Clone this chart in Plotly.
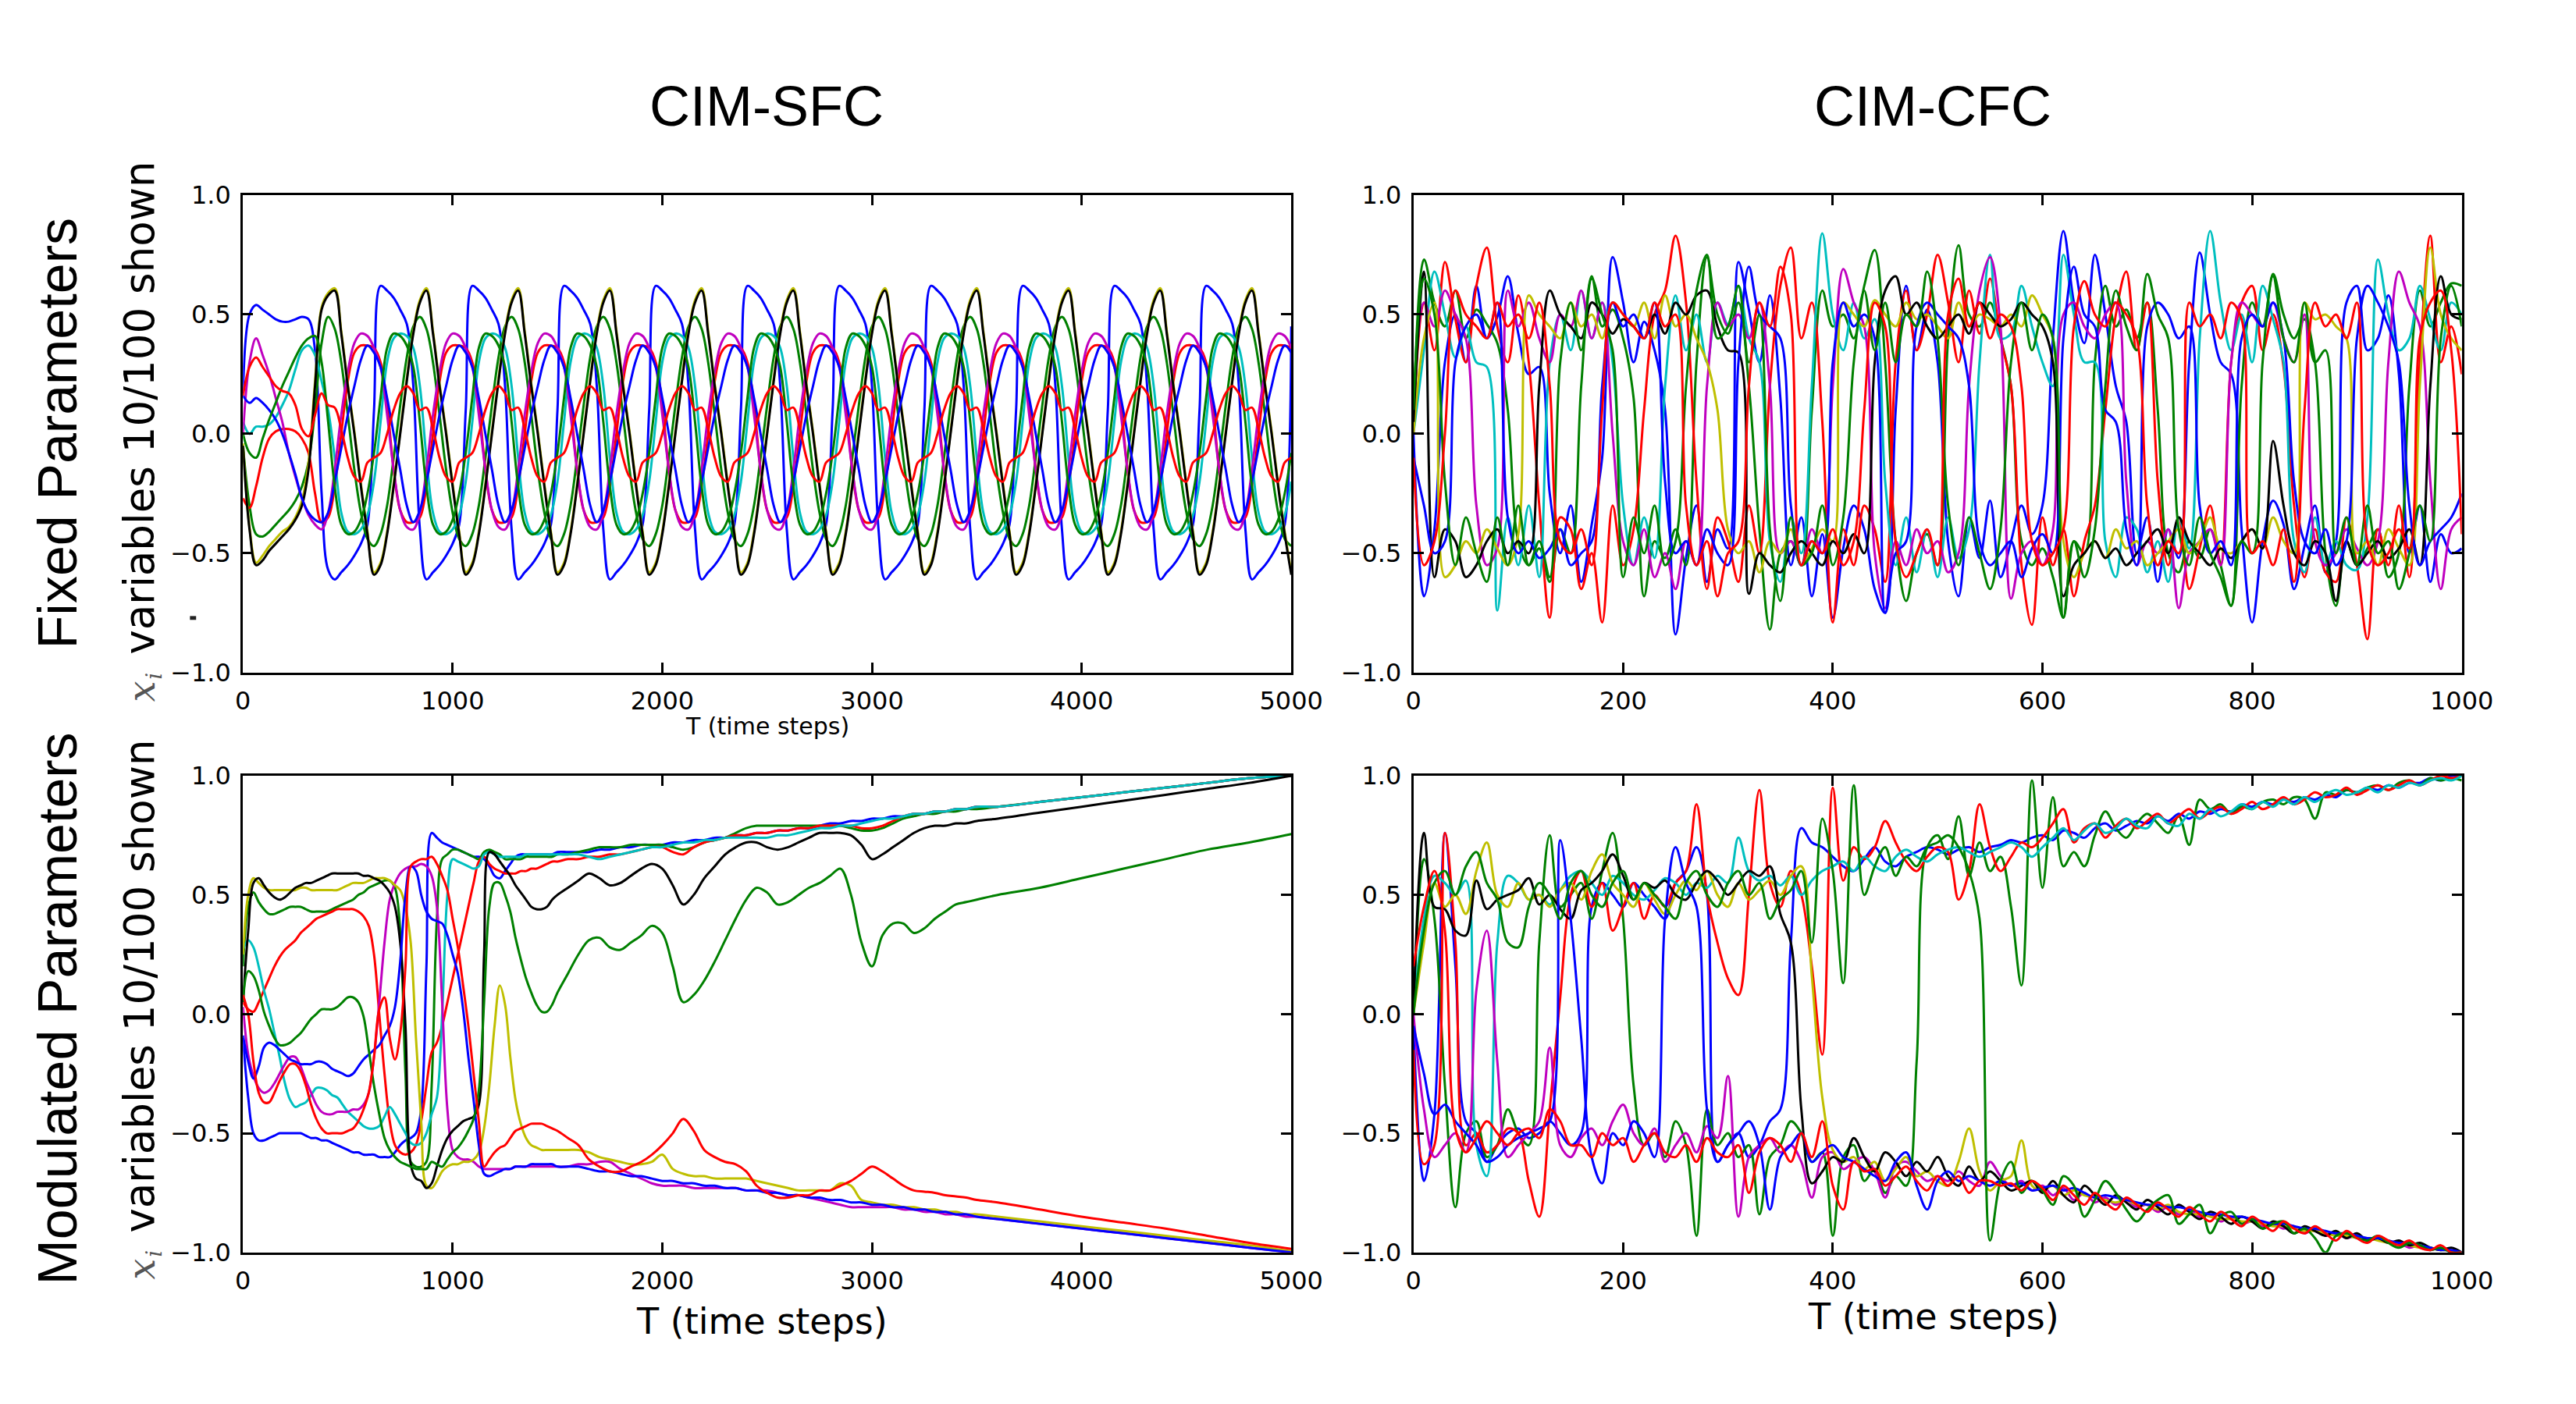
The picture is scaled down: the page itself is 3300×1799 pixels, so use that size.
#!/usr/bin/env python3
"""
CIM-SFC / CIM-CFC amplitude traces, 10 of 100 variables shown.

Top row: fixed parameters, bottom row: modulated parameters.
Left column: CIM-SFC (5000 steps), right column: CIM-CFC (1000 steps).
"""

import plotly.graph_objects as go

W, H = 3300, 1799

# matplotlib "classic" colour cycle used by the original: b g r c m y k b g r
COLORS = ['#0000ff', '#008000', '#ff0000', '#00bfbf', '#bf00bf',
          '#bfbf00', '#000000', '#0000ff', '#008000', '#ff0000']

# ---------------------------------------------------------------------------
# time grids
# ---------------------------------------------------------------------------
t_sfc_fixed = [i * 31.25 for i in range(161)]
t_cfc = list(range(0, 1001, 10))
t_sfc_mod = list(range(0, 1501, 25)) + list(range(1550, 3501, 50)) + list(range(3600, 5001, 200))

# ---------------------------------------------------------------------------
# CIM-SFC, fixed parameters (every 31.25 steps)
# ---------------------------------------------------------------------------
sfc_fix_blue1 = [
    0.17, 0.50, 0.54, 0.52, 0.50, 0.48, 0.47, 0.47, 0.48, 0.49, 0.48, 0.35, -0.25, -0.57,
    -0.61, -0.58, -0.55, -0.51, -0.46, -0.38, 0.10,
    0.62, 0.60, 0.57, 0.52, 0.46, 0.20, -0.40, -0.61, -0.58, -0.55, -0.51, -0.46, -0.38, 0.10,
    0.62, 0.60, 0.57, 0.52, 0.46, 0.20, -0.40, -0.61, -0.58, -0.55, -0.51, -0.46, -0.38, 0.10,
    0.62, 0.60, 0.57, 0.52, 0.46, 0.20, -0.40, -0.61, -0.58, -0.55, -0.51, -0.46, -0.38, 0.10,
    0.62, 0.60, 0.57, 0.52, 0.46, 0.20, -0.40, -0.61, -0.58, -0.55, -0.51, -0.46, -0.38, 0.10,
    0.62, 0.60, 0.57, 0.52, 0.46, 0.20, -0.40, -0.61, -0.58, -0.55, -0.51, -0.46, -0.38, 0.10,
    0.62, 0.60, 0.57, 0.52, 0.46, 0.20, -0.40, -0.61, -0.58, -0.55, -0.51, -0.46, -0.38, 0.10,
    0.62, 0.60, 0.57, 0.52, 0.46, 0.20, -0.40, -0.61, -0.58, -0.55, -0.51, -0.46, -0.38, 0.10,
    0.62, 0.60, 0.57, 0.52, 0.46, 0.20, -0.40, -0.61, -0.58, -0.55, -0.51, -0.46, -0.38, 0.10,
    0.62, 0.60, 0.57, 0.52, 0.46, 0.20, -0.40, -0.61, -0.58, -0.55, -0.51, -0.46, -0.38, 0.10,
    0.62, 0.60, 0.57, 0.52, 0.46, 0.20, -0.40, -0.61, -0.58, -0.55, -0.51, -0.46, -0.38, 0.45,
]
sfc_fix_green1 = [
    -0.05, -0.30, -0.42, -0.43, -0.41, -0.38, -0.35, -0.32, -0.28, -0.22, -0.12, 0.10, 0.38, 0.49,
    0.44, 0.30, 0.08, -0.15, -0.33, -0.44, -0.47,
    -0.42, -0.30, -0.10, 0.12, 0.32, 0.45, 0.49, 0.44, 0.30, 0.08, -0.15, -0.33, -0.44, -0.47,
    -0.42, -0.30, -0.10, 0.12, 0.32, 0.45, 0.49, 0.44, 0.30, 0.08, -0.15, -0.33, -0.44, -0.47,
    -0.42, -0.30, -0.10, 0.12, 0.32, 0.45, 0.49, 0.44, 0.30, 0.08, -0.15, -0.33, -0.44, -0.47,
    -0.42, -0.30, -0.10, 0.12, 0.32, 0.45, 0.49, 0.44, 0.30, 0.08, -0.15, -0.33, -0.44, -0.47,
    -0.42, -0.30, -0.10, 0.12, 0.32, 0.45, 0.49, 0.44, 0.30, 0.08, -0.15, -0.33, -0.44, -0.47,
    -0.42, -0.30, -0.10, 0.12, 0.32, 0.45, 0.49, 0.44, 0.30, 0.08, -0.15, -0.33, -0.44, -0.47,
    -0.42, -0.30, -0.10, 0.12, 0.32, 0.45, 0.49, 0.44, 0.30, 0.08, -0.15, -0.33, -0.44, -0.47,
    -0.42, -0.30, -0.10, 0.12, 0.32, 0.45, 0.49, 0.44, 0.30, 0.08, -0.15, -0.33, -0.44, -0.47,
    -0.42, -0.30, -0.10, 0.12, 0.32, 0.45, 0.49, 0.44, 0.30, 0.08, -0.15, -0.33, -0.44, -0.47,
    -0.42, -0.30, -0.10, 0.12, 0.32, 0.45, 0.49, 0.44, 0.30, 0.08, -0.15, -0.33, -0.44, -0.47,
]
sfc_fix_red1 = [
    -0.27, -0.31, -0.22, -0.10, -0.02, 0.01, 0.02, 0.02, 0.01, -0.02, -0.08, -0.25, -0.37, -0.35,
    -0.22, 0.00, 0.22, 0.34, 0.37, 0.37, 0.36,
    0.30, 0.12, -0.15, -0.32, -0.37, -0.37, -0.35, -0.22, 0.00, 0.22, 0.34, 0.37, 0.37, 0.36,
    0.30, 0.12, -0.15, -0.32, -0.37, -0.37, -0.35, -0.22, 0.00, 0.22, 0.34, 0.37, 0.37, 0.36,
    0.30, 0.12, -0.15, -0.32, -0.37, -0.37, -0.35, -0.22, 0.00, 0.22, 0.34, 0.37, 0.37, 0.36,
    0.30, 0.12, -0.15, -0.32, -0.37, -0.37, -0.35, -0.22, 0.00, 0.22, 0.34, 0.37, 0.37, 0.36,
    0.30, 0.12, -0.15, -0.32, -0.37, -0.37, -0.35, -0.22, 0.00, 0.22, 0.34, 0.37, 0.37, 0.36,
    0.30, 0.12, -0.15, -0.32, -0.37, -0.37, -0.35, -0.22, 0.00, 0.22, 0.34, 0.37, 0.37, 0.36,
    0.30, 0.12, -0.15, -0.32, -0.37, -0.37, -0.35, -0.22, 0.00, 0.22, 0.34, 0.37, 0.37, 0.36,
    0.30, 0.12, -0.15, -0.32, -0.37, -0.37, -0.35, -0.22, 0.00, 0.22, 0.34, 0.37, 0.37, 0.36,
    0.30, 0.12, -0.15, -0.32, -0.37, -0.37, -0.35, -0.22, 0.00, 0.22, 0.34, 0.37, 0.37, 0.36,
    0.30, 0.12, -0.15, -0.32, -0.37, -0.37, -0.35, -0.22, 0.00, 0.22, 0.34, 0.37, 0.37, 0.36,
]
sfc_fix_cyan = [
    0.05, 0.00, 0.03, 0.03, 0.04, 0.07, 0.12, 0.18, 0.27, 0.35, 0.37, 0.33, 0.22, 0.10,
    -0.10, -0.33, -0.41, -0.42, -0.40, -0.34, -0.20,
    0.05, 0.30, 0.40, 0.42, 0.41, 0.36, 0.20, -0.10, -0.33, -0.41, -0.42, -0.40, -0.34, -0.20,
    0.05, 0.30, 0.40, 0.42, 0.41, 0.36, 0.20, -0.10, -0.33, -0.41, -0.42, -0.40, -0.34, -0.20,
    0.05, 0.30, 0.40, 0.42, 0.41, 0.36, 0.20, -0.10, -0.33, -0.41, -0.42, -0.40, -0.34, -0.20,
    0.05, 0.30, 0.40, 0.42, 0.41, 0.36, 0.20, -0.10, -0.33, -0.41, -0.42, -0.40, -0.34, -0.20,
    0.05, 0.30, 0.40, 0.42, 0.41, 0.36, 0.20, -0.10, -0.33, -0.41, -0.42, -0.40, -0.34, -0.20,
    0.05, 0.30, 0.40, 0.42, 0.41, 0.36, 0.20, -0.10, -0.33, -0.41, -0.42, -0.40, -0.34, -0.20,
    0.05, 0.30, 0.40, 0.42, 0.41, 0.36, 0.20, -0.10, -0.33, -0.41, -0.42, -0.40, -0.34, -0.20,
    0.05, 0.30, 0.40, 0.42, 0.41, 0.36, 0.20, -0.10, -0.33, -0.41, -0.42, -0.40, -0.34, -0.20,
    0.05, 0.30, 0.40, 0.42, 0.41, 0.36, 0.20, -0.10, -0.33, -0.41, -0.42, -0.40, -0.34, -0.20,
    0.05, 0.30, 0.40, 0.42, 0.41, 0.36, 0.20, -0.10, -0.33, -0.41, -0.42, -0.40, -0.34, -0.20,
]
sfc_fix_magenta = [
    0.00, 0.30, 0.40, 0.33, 0.25, 0.15, 0.05, -0.08, -0.18, -0.27, -0.34, -0.38, -0.40, -0.33,
    -0.15, 0.08, 0.26, 0.38, 0.42, 0.41, 0.36,
    0.28, 0.08, -0.15, -0.32, -0.39, -0.40, -0.33, -0.15, 0.08, 0.26, 0.38, 0.42, 0.41, 0.36,
    0.28, 0.08, -0.15, -0.32, -0.39, -0.40, -0.33, -0.15, 0.08, 0.26, 0.38, 0.42, 0.41, 0.36,
    0.28, 0.08, -0.15, -0.32, -0.39, -0.40, -0.33, -0.15, 0.08, 0.26, 0.38, 0.42, 0.41, 0.36,
    0.28, 0.08, -0.15, -0.32, -0.39, -0.40, -0.33, -0.15, 0.08, 0.26, 0.38, 0.42, 0.41, 0.36,
    0.28, 0.08, -0.15, -0.32, -0.39, -0.40, -0.33, -0.15, 0.08, 0.26, 0.38, 0.42, 0.41, 0.36,
    0.28, 0.08, -0.15, -0.32, -0.39, -0.40, -0.33, -0.15, 0.08, 0.26, 0.38, 0.42, 0.41, 0.36,
    0.28, 0.08, -0.15, -0.32, -0.39, -0.40, -0.33, -0.15, 0.08, 0.26, 0.38, 0.42, 0.41, 0.36,
    0.28, 0.08, -0.15, -0.32, -0.39, -0.40, -0.33, -0.15, 0.08, 0.26, 0.38, 0.42, 0.41, 0.36,
    0.28, 0.08, -0.15, -0.32, -0.39, -0.40, -0.33, -0.15, 0.08, 0.26, 0.38, 0.42, 0.41, 0.36,
    0.28, 0.08, -0.15, -0.32, -0.39, -0.40, -0.33, -0.15, 0.08, 0.26, 0.38, 0.42, 0.41, 0.36,
]
sfc_fix_yellow = [
    -0.04, -0.39, -0.54, -0.51, -0.47, -0.44, -0.41, -0.39, -0.35, -0.28, -0.12, 0.22, 0.53, 0.59,
    0.61, 0.43, 0.21, 0.01, -0.21, -0.41, -0.58,
    -0.54, -0.41, -0.21, 0.01, 0.23, 0.43, 0.56, 0.61, 0.43, 0.21, 0.01, -0.21, -0.41, -0.58,
    -0.54, -0.41, -0.21, 0.01, 0.23, 0.43, 0.56, 0.61, 0.43, 0.21, 0.01, -0.21, -0.41, -0.58,
    -0.54, -0.41, -0.21, 0.01, 0.23, 0.43, 0.56, 0.61, 0.43, 0.21, 0.01, -0.21, -0.41, -0.58,
    -0.54, -0.41, -0.21, 0.01, 0.23, 0.43, 0.56, 0.61, 0.43, 0.21, 0.01, -0.21, -0.41, -0.58,
    -0.54, -0.41, -0.21, 0.01, 0.23, 0.43, 0.56, 0.61, 0.43, 0.21, 0.01, -0.21, -0.41, -0.58,
    -0.54, -0.41, -0.21, 0.01, 0.23, 0.43, 0.56, 0.61, 0.43, 0.21, 0.01, -0.21, -0.41, -0.58,
    -0.54, -0.41, -0.21, 0.01, 0.23, 0.43, 0.56, 0.61, 0.43, 0.21, 0.01, -0.21, -0.41, -0.58,
    -0.54, -0.41, -0.21, 0.01, 0.23, 0.43, 0.56, 0.61, 0.43, 0.21, 0.01, -0.21, -0.41, -0.58,
    -0.54, -0.41, -0.21, 0.01, 0.23, 0.43, 0.56, 0.61, 0.43, 0.21, 0.01, -0.21, -0.41, -0.58,
    -0.54, -0.41, -0.21, 0.01, 0.23, 0.43, 0.56, 0.61, 0.43, 0.21, 0.01, -0.21, -0.41, -0.58,
]
sfc_fix_black = [
    -0.05, -0.40, -0.55, -0.53, -0.49, -0.46, -0.43, -0.40, -0.36, -0.30, -0.15, 0.20, 0.52, 0.58,
    0.60, 0.42, 0.20, 0.00, -0.22, -0.42, -0.59,
    -0.55, -0.42, -0.22, 0.00, 0.22, 0.42, 0.55, 0.60, 0.42, 0.20, 0.00, -0.22, -0.42, -0.59,
    -0.55, -0.42, -0.22, 0.00, 0.22, 0.42, 0.55, 0.60, 0.42, 0.20, 0.00, -0.22, -0.42, -0.59,
    -0.55, -0.42, -0.22, 0.00, 0.22, 0.42, 0.55, 0.60, 0.42, 0.20, 0.00, -0.22, -0.42, -0.59,
    -0.55, -0.42, -0.22, 0.00, 0.22, 0.42, 0.55, 0.60, 0.42, 0.20, 0.00, -0.22, -0.42, -0.59,
    -0.55, -0.42, -0.22, 0.00, 0.22, 0.42, 0.55, 0.60, 0.42, 0.20, 0.00, -0.22, -0.42, -0.59,
    -0.55, -0.42, -0.22, 0.00, 0.22, 0.42, 0.55, 0.60, 0.42, 0.20, 0.00, -0.22, -0.42, -0.59,
    -0.55, -0.42, -0.22, 0.00, 0.22, 0.42, 0.55, 0.60, 0.42, 0.20, 0.00, -0.22, -0.42, -0.59,
    -0.55, -0.42, -0.22, 0.00, 0.22, 0.42, 0.55, 0.60, 0.42, 0.20, 0.00, -0.22, -0.42, -0.59,
    -0.55, -0.42, -0.22, 0.00, 0.22, 0.42, 0.55, 0.60, 0.42, 0.20, 0.00, -0.22, -0.42, -0.59,
    -0.55, -0.42, -0.22, 0.00, 0.22, 0.42, 0.55, 0.60, 0.42, 0.20, 0.00, -0.22, -0.42, -0.59,
]
sfc_fix_blue2 = [
    0.16, 0.13, 0.15, 0.13, 0.10, 0.06, 0.00, -0.08, -0.17, -0.27, -0.33, -0.36, -0.37, -0.33,
    -0.20, -0.06, 0.08, 0.20, 0.31, 0.37, 0.34,
    0.28, 0.15, 0.00, -0.15, -0.30, -0.37, -0.32, -0.20, -0.06, 0.08, 0.20, 0.31, 0.37, 0.34,
    0.28, 0.15, 0.00, -0.15, -0.30, -0.37, -0.32, -0.20, -0.06, 0.08, 0.20, 0.31, 0.37, 0.34,
    0.28, 0.15, 0.00, -0.15, -0.30, -0.37, -0.32, -0.20, -0.06, 0.08, 0.20, 0.31, 0.37, 0.34,
    0.28, 0.15, 0.00, -0.15, -0.30, -0.37, -0.32, -0.20, -0.06, 0.08, 0.20, 0.31, 0.37, 0.34,
    0.28, 0.15, 0.00, -0.15, -0.30, -0.37, -0.32, -0.20, -0.06, 0.08, 0.20, 0.31, 0.37, 0.34,
    0.28, 0.15, 0.00, -0.15, -0.30, -0.37, -0.32, -0.20, -0.06, 0.08, 0.20, 0.31, 0.37, 0.34,
    0.28, 0.15, 0.00, -0.15, -0.30, -0.37, -0.32, -0.20, -0.06, 0.08, 0.20, 0.31, 0.37, 0.34,
    0.28, 0.15, 0.00, -0.15, -0.30, -0.37, -0.32, -0.20, -0.06, 0.08, 0.20, 0.31, 0.37, 0.34,
    0.28, 0.15, 0.00, -0.15, -0.30, -0.37, -0.32, -0.20, -0.06, 0.08, 0.20, 0.31, 0.37, 0.34,
    0.28, 0.15, 0.00, -0.15, -0.30, -0.37, -0.32, -0.20, -0.06, 0.08, 0.20, 0.31, 0.37, 0.34,
]
sfc_fix_green2 = [
    0.00, -0.08, -0.10, -0.02, 0.06, 0.13, 0.20, 0.26, 0.32, 0.37, 0.40, 0.41, 0.30, 0.05,
    -0.22, -0.38, -0.42, -0.41, -0.36, -0.25, -0.08,
    0.15, 0.36, 0.42, 0.41, 0.37, 0.28, 0.05, -0.22, -0.38, -0.42, -0.41, -0.36, -0.25, -0.08,
    0.15, 0.36, 0.42, 0.41, 0.37, 0.28, 0.05, -0.22, -0.38, -0.42, -0.41, -0.36, -0.25, -0.08,
    0.15, 0.36, 0.42, 0.41, 0.37, 0.28, 0.05, -0.22, -0.38, -0.42, -0.41, -0.36, -0.25, -0.08,
    0.15, 0.36, 0.42, 0.41, 0.37, 0.28, 0.05, -0.22, -0.38, -0.42, -0.41, -0.36, -0.25, -0.08,
    0.15, 0.36, 0.42, 0.41, 0.37, 0.28, 0.05, -0.22, -0.38, -0.42, -0.41, -0.36, -0.25, -0.08,
    0.15, 0.36, 0.42, 0.41, 0.37, 0.28, 0.05, -0.22, -0.38, -0.42, -0.41, -0.36, -0.25, -0.08,
    0.15, 0.36, 0.42, 0.41, 0.37, 0.28, 0.05, -0.22, -0.38, -0.42, -0.41, -0.36, -0.25, -0.08,
    0.15, 0.36, 0.42, 0.41, 0.37, 0.28, 0.05, -0.22, -0.38, -0.42, -0.41, -0.36, -0.25, -0.08,
    0.15, 0.36, 0.42, 0.41, 0.37, 0.28, 0.05, -0.22, -0.38, -0.42, -0.41, -0.36, -0.25, -0.08,
    0.15, 0.36, 0.42, 0.41, 0.37, 0.28, 0.05, -0.22, -0.38, -0.42, -0.41, -0.36, -0.25, -0.08,
]
sfc_fix_red2 = [
    0.16, 0.28, 0.32, 0.28, 0.24, 0.20, 0.18, 0.17, 0.12, 0.02, -0.01, 0.08, 0.17, 0.12,
    0.11, 0.02, -0.10, -0.18, -0.20, -0.12, -0.10,
    -0.08, 0.00, 0.10, 0.17, 0.20, 0.17, 0.10, 0.11, 0.02, -0.10, -0.18, -0.20, -0.12, -0.10,
    -0.08, 0.00, 0.10, 0.17, 0.20, 0.17, 0.10, 0.11, 0.02, -0.10, -0.18, -0.20, -0.12, -0.10,
    -0.08, 0.00, 0.10, 0.17, 0.20, 0.17, 0.10, 0.11, 0.02, -0.10, -0.18, -0.20, -0.12, -0.10,
    -0.08, 0.00, 0.10, 0.17, 0.20, 0.17, 0.10, 0.11, 0.02, -0.10, -0.18, -0.20, -0.12, -0.10,
    -0.08, 0.00, 0.10, 0.17, 0.20, 0.17, 0.10, 0.11, 0.02, -0.10, -0.18, -0.20, -0.12, -0.10,
    -0.08, 0.00, 0.10, 0.17, 0.20, 0.17, 0.10, 0.11, 0.02, -0.10, -0.18, -0.20, -0.12, -0.10,
    -0.08, 0.00, 0.10, 0.17, 0.20, 0.17, 0.10, 0.11, 0.02, -0.10, -0.18, -0.20, -0.12, -0.10,
    -0.08, 0.00, 0.10, 0.17, 0.20, 0.17, 0.10, 0.11, 0.02, -0.10, -0.18, -0.20, -0.12, -0.10,
    -0.08, 0.00, 0.10, 0.17, 0.20, 0.17, 0.10, 0.11, 0.02, -0.10, -0.18, -0.20, -0.12, -0.10,
    -0.08, 0.00, 0.10, 0.17, 0.20, 0.17, 0.10, 0.11, 0.02, -0.10, -0.18, -0.20, -0.12, -0.10,
]

# ---------------------------------------------------------------------------
# CIM-CFC, fixed parameters (every 10 steps)
# ---------------------------------------------------------------------------
cfc_fix_blue1 = [
    0.00, -0.68, -0.40, 0.30, 0.50, 0.30, 0.62, 0.40, 0.49, 0.66,
    0.42, 0.25, 0.28, -0.25, -0.50, -0.30, -0.62, -0.38, -0.10, 0.74,
    0.55, 0.30, 0.47, 0.35, 0.10, -0.84, -0.52, -0.30, -0.62, -0.40,
    -0.48, 0.72, 0.52, 0.30, 0.58, 0.15, -0.55, -0.35, -0.68, -0.42,
    -0.77, -0.48, -0.30, -0.40, -0.65, -0.75, 0.10, 0.62, 0.35, 0.52,
    0.30, -0.45, -0.68, -0.35, -0.52, -0.28, -0.60, -0.45, -0.30, -0.42,
    -0.30, 0.40, 0.85, 0.55, 0.38, 0.75, 0.50, 0.20, 0.05, -0.50,
    -0.35, -0.62, -0.40, -0.52, 0.30, 0.76, 0.50, 0.30, 0.25, -0.40,
    -0.79, -0.45, -0.28, -0.38, -0.65, -0.47, -0.30, -0.58, -0.45, 0.55,
    0.62, 0.35, 0.40, 0.58, 0.25, -0.50, -0.30, -0.62, -0.42, -0.50,
    -0.48,
]
cfc_fix_green1 = [
    0.05, 0.73, 0.55, 0.45, 0.60, 0.40, 0.52, 0.46, 0.38, 0.10,
    -0.45, -0.55, -0.48, -0.62, -0.40, -0.50, 0.20, 0.66, 0.45, 0.52,
    0.40, 0.15, -0.68, -0.45, -0.52, -0.40, -0.55, 0.30, 0.74, 0.50,
    0.42, 0.55, 0.20, -0.40, -0.82, -0.50, -0.45, -0.55, 0.10, 0.60,
    0.45, 0.50, 0.40, 0.62, 0.77, 0.30, -0.45, -0.70, -0.50, -0.42,
    -0.55, 0.40, 0.79, 0.50, 0.45, 0.55, 0.40, 0.20, -0.45, -0.55,
    -0.48, -0.60, -0.77, -0.45, -0.50, 0.30, 0.62, 0.45, 0.52, 0.40,
    0.55, 0.10, -0.50, -0.58, -0.45, -0.52, -0.40, -0.55, -0.72, 0.20,
    0.55, 0.45, 0.67, 0.50, 0.40, 0.48, 0.30, -0.50, -0.72, -0.45,
    -0.55, -0.48, -0.40, -0.60, -0.50, 0.20, 0.60, 0.45, 0.55, 0.63,
    0.62,
]
cfc_fix_red1 = [
    0.05, 0.55, 0.35, 0.72, 0.48, 0.30, 0.62, 0.78, 0.45, 0.30,
    0.58, 0.30, -0.30, -0.77, -0.35, -0.40, -0.65, -0.50, -0.79, -0.30,
    -0.55, -0.40, 0.10, 0.50, 0.60, 0.83, 0.55, -0.20, -0.65, -0.35,
    -0.45, -0.62, -0.30, -0.50, 0.20, 0.62, 0.78, 0.40, 0.55, 0.05,
    -0.79, -0.40, -0.55, -0.30, -0.40, -0.62, 0.30, 0.60, 0.35, 0.50,
    0.75, 0.55, 0.30, 0.60, 0.42, 0.65, 0.40, 0.20, -0.55, -0.80,
    -0.35, -0.55, -0.40, -0.68, -0.45, -0.30, 0.10, 0.50, 0.68, 0.35,
    0.55, -0.20, -0.55, -0.35, -0.65, -0.48, -0.30, -0.55, 0.30, 0.55,
    0.62, 0.35, 0.50, 0.28, -0.30, -0.60, -0.40, -0.58, -0.62, -0.35,
    -0.55, -0.86, -0.40, -0.55, -0.30, -0.60, 0.30, 0.83, 0.30, 0.45,
    0.25,
]
cfc_fix_cyan = [
    0.00, 0.35, 0.68, 0.50, 0.32, 0.45, 0.30, 0.28, -0.74, -0.35,
    -0.55, -0.30, -0.60, 0.30, 0.50, 0.35, 0.60, 0.40, 0.55, 0.30,
    -0.30, -0.55, -0.35, -0.52, 0.20, 0.58, 0.35, 0.50, 0.30, 0.55,
    0.46, 0.62, 0.40, 0.30, -0.45, -0.62, -0.35, -0.50, 0.20, 0.84,
    0.50, 0.35, 0.55, 0.40, 0.48, -0.20, -0.55, -0.35, -0.58, -0.40,
    -0.60, -0.35, -0.52, -0.40, 0.30, 0.75, 0.40, 0.42, 0.62, 0.45,
    0.30, 0.20, 0.75, 0.50, 0.30, 0.30, -0.45, -0.60, -0.35, -0.40,
    -0.58, -0.45, -0.62, -0.35, -0.48, 0.40, 0.85, 0.55, 0.35, 0.50,
    0.30, 0.62, 0.48, 0.30, -0.45, -0.58, -0.35, -0.55, -0.45, -0.55,
    -0.57, -0.35, 0.73, 0.50, 0.35, 0.40, 0.62, 0.48, 0.35, 0.55,
    0.50,
]
cfc_fix_magenta = [
    0.00, 0.55, 0.45, 0.60, 0.50, 0.40, -0.30, -0.55, -0.48, 0.60,
    0.45, 0.55, 0.40, 0.30, 0.50, 0.45, 0.60, 0.40, 0.55, 0.00,
    -0.45, -0.55, -0.40, -0.60, -0.50, -0.65, -0.45, -0.55, 0.20, 0.55,
    0.45, 0.50, 0.40, 0.55, 0.20, -0.50, -0.45, -0.55, -0.40, -0.50,
    0.20, 0.69, 0.55, 0.45, -0.50, -0.73, -0.45, -0.55, -0.40, -0.50,
    -0.45, -0.58, -0.50, 0.20, 0.60, 0.74, 0.45, -0.69, -0.50, -0.45,
    -0.55, -0.40, 0.50, 0.55, 0.45, 0.40, 0.50, 0.55, -0.20, -0.55,
    -0.45, -0.50, -0.40, -0.73, -0.50, -0.45, -0.40, -0.55, 0.30, 0.55,
    0.50, 0.45, 0.55, 0.40, 0.30, 0.50, -0.45, -0.55, -0.50, -0.40,
    -0.48, -0.55, -0.45, 0.30, 0.68, 0.55, 0.45, -0.20, -0.65, -0.40,
    -0.35,
]
cfc_fix_yellow = [
    0.00, 0.40, 0.55, -0.60, -0.55, -0.45, -0.50, -0.40, -0.48, -0.55,
    -0.42, 0.58, 0.50, 0.45, 0.40, 0.55, 0.45, 0.50, 0.40, 0.55,
    0.50, 0.45, 0.55, 0.40, 0.58, 0.45, 0.50, 0.40, 0.30, 0.10,
    -0.40, -0.50, -0.45, -0.58, -0.45, -0.50, -0.40, -0.55, -0.48, -0.40,
    -0.45, 0.55, 0.50, 0.45, 0.56, 0.50, 0.45, 0.55, 0.48, 0.50,
    0.45, 0.40, 0.55, 0.45, 0.50, 0.48, 0.45, 0.50, 0.45, 0.58,
    0.50, 0.40, -0.45, -0.60, -0.50, -0.45, -0.52, -0.40, -0.48, -0.45,
    -0.55, -0.50, -0.45, -0.40, -0.50, -0.45, -0.35, -0.48, -0.50, -0.45,
    -0.40, -0.48, -0.35, -0.45, -0.50, 0.55, 0.48, 0.50, 0.45, 0.40,
    -0.50, -0.45, -0.55, -0.40, -0.48, -0.55, 0.20, 0.78, 0.50, 0.40,
    0.35,
]
cfc_fix_black = [
    0.05, 0.68, -0.60, -0.40, -0.45, -0.60, -0.55, -0.45, -0.40, -0.50,
    -0.45, -0.50, 0.20, 0.60, 0.50, 0.45, 0.40, 0.55, 0.50, 0.42,
    0.48, 0.45, 0.40, 0.50, 0.42, 0.55, 0.50, 0.58, 0.60, 0.45,
    0.35, 0.34, -0.67, -0.50, -0.55, -0.58, -0.50, -0.45, -0.50, -0.55,
    -0.45, -0.50, -0.42, -0.50, 0.30, 0.60, 0.66, 0.50, 0.55, 0.45,
    0.40, 0.45, 0.50, 0.42, 0.55, 0.50, 0.45, 0.48, 0.55, 0.50,
    0.45, 0.30, -0.68, -0.55, -0.50, -0.45, -0.52, -0.48, -0.55, -0.50,
    -0.45, -0.40, -0.50, -0.35, -0.45, -0.50, -0.55, -0.48, -0.52, -0.45,
    -0.40, -0.48, -0.03, -0.30, -0.50, -0.55, -0.45, -0.50, -0.70, -0.45,
    -0.55, -0.50, -0.45, -0.52, -0.48, -0.40, -0.55, 0.20, 0.66, 0.50,
    0.48,
]
cfc_fix_blue2 = [
    -0.10, -0.30, -0.50, -0.45, 0.30, 0.45, 0.50, 0.40, 0.55, -0.35,
    -0.50, -0.45, -0.52, -0.48, -0.40, -0.55, -0.50, -0.45, 0.20, 0.55,
    0.45, 0.50, 0.40, 0.55, -0.20, -0.50, -0.45, -0.55, -0.40, -0.50,
    -0.55, 0.30, 0.70, 0.50, 0.45, 0.40, -0.30, -0.55, -0.45, -0.50,
    0.30, 0.55, 0.45, 0.50, 0.40, -0.75, -0.50, -0.45, 0.45, 0.55,
    0.50, 0.45, 0.40, 0.20, -0.45, -0.55, -0.50, -0.45, -0.60, -0.48,
    -0.42, -0.50, 0.40, 0.70, 0.50, 0.45, 0.10, 0.05, -0.40, -0.55,
    0.45, 0.55, 0.50, 0.40, 0.45, -0.30, -0.50, -0.45, -0.55, 0.40,
    0.50, 0.45, 0.55, 0.40, -0.20, -0.45, -0.50, -0.40, -0.55, -0.45,
    0.40, 0.62, 0.55, 0.45, 0.30, -0.30, -0.55, -0.45, -0.40, -0.35,
    -0.25,
]
cfc_fix_green2 = [
    0.10, 0.65, 0.50, -0.20, -0.55, -0.35, -0.50, -0.62, -0.35, -0.55,
    -0.30, -0.55, -0.45, -0.60, 0.30, 0.55, 0.35, 0.65, 0.50, 0.35,
    -0.60, -0.35, -0.50, -0.30, -0.55, -0.45, 0.20, 0.60, 0.75, 0.40,
    0.45, 0.62, 0.30, 0.50, -0.40, -0.70, -0.35, -0.55, -0.50, -0.30,
    -0.55, -0.35, 0.30, 0.60, 0.35, 0.55, 0.30, 0.50, 0.45, 0.68,
    0.40, -0.30, -0.55, -0.35, -0.50, -0.65, -0.40, 0.30, 0.55, 0.35,
    0.50, 0.40, -0.77, -0.45, -0.60, -0.40, 0.20, 0.60, 0.45, 0.35,
    0.67, 0.50, 0.40, -0.40, -0.55, -0.35, -0.50, -0.60, -0.72, -0.45,
    -0.50, 0.30, 0.66, 0.40, 0.30, 0.55, 0.30, 0.35, -0.50, -0.35,
    -0.55, -0.30, -0.50, -0.45, -0.65, -0.50, -0.30, -0.45, 0.40, 0.62,
    0.45,
]
cfc_fix_red2 = [
    -0.10, -0.55, -0.45, 0.00, 0.60, 0.50, 0.45, 0.40, 0.55, 0.45,
    0.50, 0.40, 0.55, 0.20, -0.45, -0.50, -0.40, -0.55, 0.10, 0.55,
    0.50, 0.45, 0.40, 0.55, 0.45, 0.50, -0.30, -0.55, -0.45, -0.68,
    -0.50, -0.45, 0.20, 0.55, 0.45, 0.70, 0.50, -0.55, -0.45, -0.50,
    -0.40, -0.55, -0.45, 0.10, 0.55, 0.45, -0.45, -0.60, -0.50, -0.40,
    -0.55, 0.50, 0.65, 0.45, 0.55, 0.40, 0.50, 0.45, 0.20, -0.45,
    -0.55, -0.50, -0.40, 0.45, 0.64, 0.50, 0.45, 0.55, 0.50, 0.40,
    -0.30, -0.55, -0.45, -0.50, 0.55, 0.45, 0.50, 0.40, 0.55, 0.48,
    -0.50, -0.45, -0.55, -0.40, -0.62, 0.10, 0.55, 0.45, 0.50, 0.40,
    0.55, -0.45, -0.55, -0.50, -0.40, -0.48, 0.40, 0.55, 0.60, 0.35,
    -0.42,
]

# ---------------------------------------------------------------------------
# CIM-SFC, modulated parameters (every 25 steps to 1500, 50 to 3500, 200 after)
# ---------------------------------------------------------------------------
sfc_mod_blue_up = [
    -0.10, -0.35, -0.50, -0.53, -0.53, -0.52, -0.51, -0.50, -0.50, -0.50,
    -0.50, -0.50, -0.51, -0.52, -0.52, -0.53, -0.53, -0.54, -0.55, -0.56,
    -0.57, -0.58, -0.58, -0.59, -0.59, -0.59, -0.60, -0.60, -0.60, -0.58,
    -0.55, -0.53, -0.52, -0.50, -0.40, 0.20, 0.76, 0.74, 0.72, 0.71,
    0.70, 0.69, 0.68, 0.67, 0.66, 0.66, 0.65, 0.62, 0.58, 0.57,
    0.60, 0.63, 0.66, 0.67, 0.67, 0.67, 0.67, 0.67, 0.67, 0.67,
    0.68,
    0.68, 0.68, 0.68, 0.69, 0.69, 0.70, 0.70, 0.71, 0.71, 0.71,
    0.72, 0.72, 0.73, 0.73, 0.74, 0.74, 0.75, 0.75, 0.76, 0.76,
    0.77, 0.77, 0.78, 0.78, 0.79, 0.80, 0.80, 0.81, 0.81, 0.82,
    0.82, 0.83, 0.83, 0.84, 0.84, 0.85, 0.85, 0.86, 0.86, 0.87,
    0.87, 0.89, 0.91, 0.93, 0.95, 0.97, 0.99, 1.00,
]
sfc_mod_green_up = [
    0.20, 0.45, 0.51, 0.47, 0.44, 0.42, 0.42, 0.43, 0.44, 0.45,
    0.45, 0.45, 0.44, 0.43, 0.43, 0.43, 0.43, 0.44, 0.45, 0.46,
    0.47, 0.48, 0.50, 0.51, 0.53, 0.54, 0.55, 0.56, 0.56, 0.53,
    0.35, -0.25, -0.62, -0.64, -0.64, -0.62, -0.30, 0.40, 0.65, 0.67,
    0.69, 0.69, 0.68, 0.67, 0.66, 0.65, 0.68, 0.69, 0.68, 0.67,
    0.65, 0.65, 0.65, 0.65, 0.66, 0.66, 0.66, 0.66, 0.66, 0.66,
    0.67,
    0.67, 0.68, 0.69, 0.70, 0.70, 0.70, 0.71, 0.71, 0.71, 0.71,
    0.70, 0.69, 0.70, 0.72, 0.73, 0.74, 0.76, 0.78, 0.79, 0.79,
    0.79, 0.79, 0.79, 0.79, 0.79, 0.79, 0.79, 0.78, 0.77, 0.77,
    0.78, 0.80, 0.82, 0.83, 0.84, 0.84, 0.85, 0.85, 0.86, 0.86,
    0.87, 0.89, 0.91, 0.93, 0.95, 0.97, 0.99, 1.00,
]
sfc_mod_red_up = [
    0.05, 0.02, 0.01, 0.05, 0.10, 0.15, 0.20, 0.24, 0.27, 0.29,
    0.31, 0.34, 0.36, 0.38, 0.40, 0.41, 0.42, 0.43, 0.44, 0.44,
    0.44, 0.44, 0.43, 0.41, 0.37, 0.25, 0.00, -0.25, -0.45, -0.55,
    -0.58, -0.59, -0.58, -0.55, -0.45, -0.30, -0.16, -0.12, -0.05, 0.05,
    0.15, 0.25, 0.35, 0.45, 0.55, 0.64, 0.66, 0.63, 0.61, 0.60,
    0.59, 0.59, 0.59, 0.60, 0.60, 0.61, 0.61, 0.62, 0.63, 0.64,
    0.64,
    0.65, 0.65, 0.66, 0.66, 0.67, 0.67, 0.68, 0.69, 0.70, 0.70,
    0.68, 0.67, 0.70, 0.72, 0.73, 0.74, 0.75, 0.75, 0.76, 0.76,
    0.77, 0.77, 0.78, 0.78, 0.79, 0.79, 0.79, 0.79, 0.78, 0.78,
    0.79, 0.81, 0.83, 0.84, 0.84, 0.85, 0.85, 0.86, 0.86, 0.87,
    0.87, 0.89, 0.91, 0.93, 0.95, 0.97, 0.99, 1.00,
]
sfc_mod_cyan = [
    0.27, 0.31, 0.28, 0.20, 0.10, 0.02, -0.08, -0.18, -0.29, -0.36,
    -0.39, -0.38, -0.37, -0.34, -0.31, -0.31, -0.32, -0.34, -0.35, -0.38,
    -0.41, -0.43, -0.45, -0.47, -0.48, -0.48, -0.47, -0.43, -0.39, -0.42,
    -0.46, -0.50, -0.54, -0.55, -0.54, -0.50, -0.42, -0.35, 0.00, 0.50,
    0.65, 0.64, 0.63, 0.62, 0.61, 0.62, 0.67, 0.68, 0.67, 0.66,
    0.66, 0.66, 0.66, 0.66, 0.67, 0.67, 0.67, 0.67, 0.67, 0.67,
    0.67,
    0.67, 0.67, 0.66, 0.65, 0.66, 0.67, 0.68, 0.69, 0.70, 0.70,
    0.71, 0.72, 0.72, 0.73, 0.73, 0.74, 0.74, 0.74, 0.74, 0.74,
    0.75, 0.75, 0.76, 0.77, 0.78, 0.78, 0.79, 0.79, 0.80, 0.81,
    0.82, 0.82, 0.83, 0.84, 0.84, 0.85, 0.85, 0.86, 0.86, 0.87,
    0.87, 0.89, 0.91, 0.93, 0.95, 0.97, 0.99, 1.00,
]
sfc_mod_magenta = [
    0.03, -0.17, -0.26, -0.31, -0.33, -0.32, -0.29, -0.25, -0.21, -0.18,
    -0.18, -0.22, -0.28, -0.33, -0.38, -0.41, -0.42, -0.42, -0.41, -0.41,
    -0.41, -0.40, -0.40, -0.38, -0.33, -0.18, 0.05, 0.30, 0.48, 0.55,
    0.59, 0.61, 0.62, 0.62, 0.63, 0.62, 0.58, 0.45, 0.05, -0.40,
    -0.57, -0.60, -0.61, -0.61, -0.62, -0.64, -0.65, -0.65, -0.65, -0.65,
    -0.65, -0.65, -0.64, -0.64, -0.64, -0.64, -0.64, -0.64, -0.64, -0.64,
    -0.64,
    -0.64, -0.63, -0.63, -0.62, -0.62, -0.65, -0.67, -0.69, -0.71, -0.72,
    -0.72, -0.72, -0.73, -0.73, -0.73, -0.73, -0.73, -0.74, -0.74, -0.74,
    -0.75, -0.76, -0.76, -0.77, -0.78, -0.79, -0.80, -0.81, -0.81, -0.81,
    -0.81, -0.81, -0.82, -0.82, -0.83, -0.83, -0.84, -0.84, -0.85, -0.85,
    -0.86, -0.88, -0.90, -0.92, -0.94, -0.96, -0.98, -1.00,
]
sfc_mod_yellow = [
    0.25, 0.50, 0.57, 0.55, 0.53, 0.52, 0.52, 0.52, 0.52, 0.52,
    0.52, 0.53, 0.53, 0.52, 0.52, 0.52, 0.52, 0.52, 0.52, 0.53,
    0.54, 0.55, 0.55, 0.55, 0.56, 0.57, 0.57, 0.57, 0.56, 0.54,
    0.52, 0.45, 0.30, -0.10, -0.45, -0.72, -0.73, -0.70, -0.66, -0.64,
    -0.63, -0.63, -0.62, -0.62, -0.61, -0.58, -0.48, -0.30, -0.05, 0.12,
    0.04, -0.18, -0.36, -0.46, -0.52, -0.55, -0.56, -0.57, -0.57, -0.57,
    -0.57,
    -0.57, -0.57, -0.58, -0.60, -0.61, -0.62, -0.63, -0.63, -0.62, -0.59,
    -0.65, -0.67, -0.68, -0.68, -0.69, -0.69, -0.69, -0.69, -0.70, -0.71,
    -0.72, -0.73, -0.74, -0.74, -0.74, -0.74, -0.71, -0.72, -0.78, -0.79,
    -0.80, -0.80, -0.81, -0.81, -0.82, -0.82, -0.83, -0.83, -0.84, -0.84,
    -0.85, -0.87, -0.89, -0.91, -0.93, -0.95, -0.97, -0.995,
]
sfc_mod_black = [
    0.05, 0.35, 0.55, 0.57, 0.54, 0.51, 0.49, 0.48, 0.49, 0.51,
    0.53, 0.54, 0.55, 0.55, 0.56, 0.57, 0.58, 0.59, 0.59, 0.59,
    0.59, 0.59, 0.59, 0.58, 0.58, 0.57, 0.56, 0.54, 0.51, 0.45,
    0.30, -0.05, -0.63, -0.69, -0.70, -0.73, -0.71, -0.64, -0.57, -0.52,
    -0.49, -0.47, -0.45, -0.44, -0.43, -0.38, 0.25, 0.68, 0.67, 0.64,
    0.61, 0.58, 0.54, 0.51, 0.48, 0.45, 0.44, 0.44, 0.45, 0.48,
    0.50,
    0.53, 0.56, 0.59, 0.57, 0.54, 0.55, 0.58, 0.61, 0.63, 0.61,
    0.54, 0.46, 0.50, 0.57, 0.62, 0.67, 0.70, 0.72, 0.72, 0.70,
    0.69, 0.70, 0.72, 0.74, 0.76, 0.76, 0.76, 0.75, 0.71, 0.65,
    0.67, 0.70, 0.73, 0.76, 0.78, 0.79, 0.79, 0.80, 0.80, 0.81,
    0.82, 0.845, 0.87, 0.895, 0.92, 0.945, 0.97, 1.00,
]
sfc_mod_blue_low = [
    -0.09, -0.20, -0.27, -0.22, -0.14, -0.12, -0.13, -0.15, -0.17, -0.19,
    -0.20, -0.21, -0.21, -0.21, -0.20, -0.20, -0.21, -0.23, -0.24, -0.25,
    -0.26, -0.25, -0.22, -0.19, -0.17, -0.15, -0.13, -0.09, -0.05, 0.03,
    0.22, 0.50, 0.62, 0.60, 0.50, 0.43, 0.40, 0.39, 0.38, 0.33,
    0.25, 0.17, 0.02, -0.18, -0.36, -0.55, -0.67, -0.68, -0.67, -0.66,
    -0.65, -0.65, -0.64, -0.64, -0.64, -0.63, -0.63, -0.63, -0.63, -0.63,
    -0.64,
    -0.64, -0.64, -0.65, -0.66, -0.66, -0.67, -0.68, -0.68, -0.69, -0.70,
    -0.70, -0.71, -0.71, -0.72, -0.72, -0.73, -0.73, -0.74, -0.74, -0.75,
    -0.75, -0.76, -0.76, -0.77, -0.77, -0.78, -0.78, -0.79, -0.79, -0.80,
    -0.80, -0.81, -0.81, -0.82, -0.82, -0.83, -0.83, -0.84, -0.84, -0.85,
    -0.86, -0.88, -0.90, -0.92, -0.94, -0.96, -0.98, -1.00,
]
sfc_mod_green_mid = [
    0.05, 0.18, 0.16, 0.10, 0.01, -0.05, -0.10, -0.13, -0.13, -0.12,
    -0.10, -0.08, -0.05, -0.02, 0.00, 0.02, 0.02, 0.02, 0.03, 0.05,
    0.07, 0.07, 0.05, -0.01, -0.15, -0.30, -0.42, -0.52, -0.57, -0.60,
    -0.62, -0.63, -0.64, -0.65, -0.65, -0.65, -0.62, -0.63, -0.64, -0.61,
    -0.58, -0.56, -0.53, -0.49, -0.44, -0.32, 0.05, 0.45, 0.55, 0.55,
    0.50, 0.43, 0.32, 0.23, 0.15, 0.09, 0.04, 0.01, 0.01, 0.04,
    0.09,
    0.17, 0.25, 0.31, 0.32, 0.28, 0.27, 0.30, 0.33, 0.37, 0.34,
    0.20, 0.05, 0.08, 0.14, 0.22, 0.31, 0.40, 0.48, 0.53, 0.51,
    0.46, 0.47, 0.50, 0.53, 0.55, 0.58, 0.61, 0.50, 0.30, 0.20,
    0.33, 0.38, 0.38, 0.34, 0.36, 0.40, 0.43, 0.46, 0.47, 0.48,
    0.50, 0.53, 0.57, 0.61, 0.65, 0.69, 0.72, 0.755,
]
sfc_mod_red_low = [
    0.08, 0.00, -0.20, -0.33, -0.37, -0.37, -0.33, -0.28, -0.24, -0.21,
    -0.21, -0.24, -0.30, -0.38, -0.44, -0.48, -0.50, -0.50, -0.50, -0.50,
    -0.49, -0.48, -0.45, -0.40, -0.33, -0.18, 0.02, 0.07, -0.10, -0.19,
    -0.08, 0.20, 0.62, 0.64, 0.65, 0.65, 0.66, 0.63, 0.58, 0.52,
    0.40, 0.28, 0.12, -0.05, -0.25, -0.45, -0.64, -0.61, -0.58, -0.56,
    -0.55, -0.52, -0.49, -0.48, -0.47, -0.46, -0.46, -0.46, -0.47, -0.48,
    -0.49,
    -0.52, -0.55, -0.61, -0.64, -0.66, -0.66, -0.64, -0.62, -0.59, -0.55,
    -0.50, -0.44, -0.49, -0.57, -0.60, -0.62, -0.63, -0.66, -0.72, -0.75,
    -0.77, -0.77, -0.76, -0.76, -0.74, -0.74, -0.72, -0.70, -0.67, -0.64,
    -0.66, -0.69, -0.72, -0.74, -0.745, -0.75, -0.76, -0.765, -0.77, -0.78,
    -0.79, -0.82, -0.85, -0.875, -0.90, -0.93, -0.96, -0.985,
]

# ---------------------------------------------------------------------------
# CIM-CFC, modulated parameters (every 10 steps)
# ---------------------------------------------------------------------------
cfc_mod_blue1 = [
    -0.05, -0.70, -0.42, 0.76, 0.20, -0.45, -0.50, -0.62, -0.55, -0.50,
    -0.48, -0.52, -0.50, -0.45, -0.50, -0.55, -0.50, 0.45, 0.55, 0.50,
    0.45, 0.55, 0.50, 0.45, 0.40, 0.55, 0.60, 0.70, 0.50, -0.62,
    -0.55, -0.50, -0.60, -0.55, -0.45, -0.40, 0.30, 0.78, 0.72, 0.70,
    0.66, 0.62, 0.60, 0.65, 0.70, 0.64, 0.62, 0.66, 0.68, 0.70,
    0.69, 0.67, 0.69, 0.70, 0.68, 0.70, 0.71, 0.73, 0.72, 0.74,
    0.75, 0.73, 0.77, 0.76, 0.74, 0.78, 0.80, 0.77, 0.79, 0.81,
    0.80, 0.83, 0.81, 0.84, 0.82, 0.85, 0.84, 0.86, 0.85, 0.88,
    0.87, 0.89, 0.88, 0.90, 0.89, 0.91, 0.90, 0.92, 0.91, 0.94,
    0.93, 0.95, 0.94, 0.96, 0.95, 0.97, 0.97, 0.99, 0.98, 1.00,
    1.00,
]
cfc_mod_green1 = [
    0.00, 0.65, 0.40, -0.30, -0.81, -0.50, -0.45, -0.60, -0.55, -0.40,
    -0.50, -0.55, 0.30, 0.75, 0.45, 0.50, 0.55, 0.40, 0.60, 0.76,
    0.40, -0.30, -0.55, -0.50, -0.60, -0.45, -0.55, -0.93, -0.40, -0.55,
    -0.50, -0.60, -0.55, -0.84, -0.60, -0.55, -0.45, -0.50, -0.62, -0.58,
    -0.93, -0.60, -0.55, -0.70, -0.65, -0.75, -0.68, -0.72, -0.20, 0.70,
    0.75, 0.65, 0.83, 0.58, 0.72, 0.60, 0.66, 0.45, 0.12, 0.98,
    0.53, 0.91, 0.62, 0.68, 0.62, 0.75, 0.85, 0.78, 0.74, 0.80,
    0.84, 0.80, 0.76, 0.83, 0.71, 0.90, 0.86, 0.88, 0.84, 0.87,
    0.86, 0.89, 0.90, 0.88, 0.91, 0.90, 0.82, 0.93, 0.92, 0.94,
    0.93, 0.95, 0.96, 0.94, 0.97, 0.98, 0.96, 0.99, 0.98, 0.99,
    0.98,
]
cfc_mod_red1 = [
    -0.15, -0.63, -0.55, 0.76, 0.30, -0.55, -0.50, -0.58, -0.55, -0.48,
    -0.50, -0.70, -0.85, -0.40, 0.07, 0.50, 0.60, 0.45, 0.55, 0.35,
    0.45, 0.55, 0.40, 0.50, 0.45, 0.55, 0.60, 0.88, 0.50, 0.30,
    0.15, 0.08, 0.50, 0.94, 0.55, 0.45, 0.60, 0.50, 0.20, -0.17,
    0.95, 0.56, 0.70, 0.65, 0.70, 0.81, 0.72, 0.64, 0.60, 0.66,
    0.70, 0.68, 0.48, 0.60, 0.88, 0.70, 0.60, 0.66, 0.72, 0.70,
    0.74, 0.80, 0.86, 0.72, 0.78, 0.80, 0.74, 0.79, 0.82, 0.78,
    0.81, 0.84, 0.80, 0.83, 0.86, 0.82, 0.85, 0.87, 0.84, 0.86,
    0.89, 0.86, 0.88, 0.91, 0.88, 0.90, 0.93, 0.91, 0.92, 0.95,
    0.92, 0.94, 0.96, 0.94, 0.96, 0.98, 0.96, 0.98, 1.00, 0.99,
    1.00,
]
cfc_mod_cyan = [
    0.00, 0.40, 0.58, 0.55, 0.50, 0.56, -0.55, -0.68, 0.30, 0.58,
    0.55, 0.48, 0.50, 0.46, 0.52, 0.58, 0.60, 0.55, 0.50, 0.58,
    0.55, 0.50, 0.48, 0.52, 0.57, 0.55, 0.50, 0.55, 0.53, 0.58,
    0.55, 0.74, 0.60, 0.56, 0.58, 0.54, 0.58, 0.50, 0.56, 0.60,
    0.62, 0.64, 0.60, 0.66, 0.62, 0.60, 0.66, 0.69, 0.66, 0.64,
    0.67, 0.69, 0.70, 0.68, 0.66, 0.68, 0.70, 0.72, 0.70, 0.66,
    0.70, 0.74, 0.78, 0.73, 0.77, 0.80, 0.76, 0.78, 0.82, 0.79,
    0.78, 0.83, 0.80, 0.79, 0.84, 0.82, 0.86, 0.83, 0.85, 0.88,
    0.86, 0.89, 0.87, 0.90, 0.88, 0.91, 0.89, 0.92, 0.94, 0.92,
    0.93, 0.95, 0.93, 0.96, 0.95, 0.97, 0.96, 0.98, 0.99, 0.98,
    1.00,
]
cfc_mod_magenta = [
    0.00, -0.40, -0.60, -0.55, -0.50, -0.58, 0.10, 0.35, -0.20, -0.60,
    -0.55, -0.50, -0.45, -0.14, -0.55, -0.60, -0.52, -0.48, -0.55, -0.45,
    -0.38, -0.50, -0.55, -0.48, -0.62, -0.55, -0.50, -0.58, -0.47, -0.52,
    -0.26, -0.85, -0.60, -0.55, -0.52, -0.58, -0.55, -0.62, -0.77, -0.60,
    -0.58, -0.65, -0.62, -0.60, -0.66, -0.77, -0.64, -0.62, -0.66, -0.70,
    -0.68, -0.70, -0.66, -0.70, -0.72, -0.62, -0.68, -0.72, -0.70, -0.74,
    -0.72, -0.76, -0.73, -0.78, -0.75, -0.79, -0.77, -0.80, -0.78, -0.81,
    -0.80, -0.83, -0.81, -0.84, -0.82, -0.85, -0.84, -0.87, -0.85, -0.88,
    -0.87, -0.89, -0.88, -0.90, -0.89, -0.92, -0.90, -0.93, -0.92, -0.94,
    -0.93, -0.95, -0.94, -0.96, -0.96, -0.98, -0.97, -0.99, -0.98, -1.00,
    -1.00,
]
cfc_mod_yellow = [
    0.00, 0.30, 0.55, 0.45, 0.50, 0.42, 0.60, 0.72, 0.50, 0.45,
    0.55, 0.48, 0.50, 0.45, 0.52, 0.55, 0.48, 0.60, 0.67, 0.55,
    0.50, 0.45, 0.55, 0.48, 0.42, 0.50, 0.56, 0.52, 0.60, 0.50,
    0.45, 0.55, 0.48, 0.52, 0.56, 0.50, 0.58, 0.62, 0.16, -0.35,
    -0.57, -0.62, -0.60, -0.65, -0.62, -0.70, -0.65, -0.60, -0.68, -0.66,
    -0.70, -0.72, -0.62, -0.48, -0.66, -0.74, -0.70, -0.68, -0.53, -0.72,
    -0.74, -0.72, -0.76, -0.74, -0.76, -0.77, -0.78, -0.79, -0.78, -0.80,
    -0.80, -0.82, -0.80, -0.83, -0.84, -0.84, -0.85, -0.86, -0.86, -0.87,
    -0.87, -0.88, -0.89, -0.89, -0.90, -0.91, -0.91, -0.92, -0.93, -0.93,
    -0.94, -0.94, -0.95, -0.96, -0.96, -0.97, -0.98, -0.98, -0.99, -0.99,
    -1.00,
]
cfc_mod_black = [
    0.00, 0.76, 0.45, 0.44, 0.35, 0.33, 0.56, 0.44, 0.48, 0.50,
    0.52, 0.57, 0.46, 0.50, 0.44, 0.40, 0.52, 0.55, 0.60, 0.67,
    0.58, 0.48, 0.55, 0.53, 0.56, 0.50, 0.48, 0.55, 0.60, 0.56,
    0.50, 0.55, 0.60, 0.58, 0.62, 0.42, 0.30, -0.40, -0.71, -0.66,
    -0.60, -0.62, -0.52, -0.60, -0.66, -0.58, -0.62, -0.68, -0.62, -0.66,
    -0.60, -0.68, -0.72, -0.64, -0.70, -0.66, -0.70, -0.74, -0.72, -0.70,
    -0.75, -0.70, -0.76, -0.79, -0.72, -0.76, -0.80, -0.76, -0.79, -0.82,
    -0.78, -0.81, -0.84, -0.80, -0.83, -0.86, -0.83, -0.85, -0.88, -0.85,
    -0.87, -0.90, -0.87, -0.89, -0.92, -0.89, -0.91, -0.93, -0.91, -0.94,
    -0.92, -0.95, -0.94, -0.96, -0.95, -0.97, -0.96, -0.98, -0.99, -0.98,
    -1.00,
]
cfc_mod_blue2 = [
    -0.05, -0.25, -0.42, -0.38, -0.45, -0.50, -0.55, -0.62, -0.60, -0.55,
    -0.52, -0.50, -0.48, -0.45, 0.73, 0.40, -0.10, -0.60, -0.71, -0.50,
    -0.55, -0.45, -0.50, -0.60, 0.40, 0.70, 0.55, 0.45, -0.40, -0.62,
    -0.55, -0.50, -0.45, -0.55, -0.82, -0.60, -0.55, -0.50, -0.62, -0.58,
    -0.55, -0.60, -0.62, -0.65, -0.68, -0.70, -0.62, -0.58, -0.72, -0.82,
    -0.70, -0.66, -0.70, -0.68, -0.70, -0.72, -0.70, -0.72, -0.71, -0.74,
    -0.73, -0.72, -0.74, -0.73, -0.75, -0.77, -0.76, -0.77, -0.78, -0.79,
    -0.80, -0.80, -0.81, -0.81, -0.82, -0.83, -0.84, -0.84, -0.85, -0.85,
    -0.86, -0.87, -0.88, -0.88, -0.89, -0.90, -0.90, -0.91, -0.92, -0.92,
    -0.93, -0.94, -0.94, -0.95, -0.96, -0.96, -0.97, -0.98, -0.99, -0.99,
    -1.00,
]
cfc_mod_green2 = [
    0.00, 0.35, 0.55, 0.60, 0.50, 0.62, 0.68, 0.55, 0.48, 0.30,
    0.28, 0.45, 0.55, 0.50, 0.40, 0.55, 0.60, 0.50, 0.45, 0.55,
    0.60, 0.48, 0.55, 0.50, 0.45, 0.40, 0.55, 0.60, 0.50, 0.45,
    0.55, 0.60, 0.50, 0.55, 0.40, 0.48, 0.52, 0.60, 0.30, 0.82,
    0.60, 0.13, 0.96, 0.50, 0.62, 0.70, 0.58, 0.66, 0.62, 0.70,
    0.72, 0.75, 0.70, 0.60, 0.40, -0.95, -0.70, -0.62, -0.75, -0.70,
    -0.74, -0.80, -0.68, -0.72, -0.85, -0.78, -0.70, -0.75, -0.82, -0.87,
    -0.82, -0.78, -0.76, -0.88, -0.84, -0.80, -0.92, -0.85, -0.83, -0.88,
    -0.86, -0.90, -0.88, -0.87, -0.92, -0.90, -0.94, -1.00, -0.93, -0.92,
    -0.94, -0.95, -0.93, -0.96, -0.98, -0.96, -0.97, -0.99, -0.98, -1.00,
    -1.00,
]
cfc_mod_red2 = [
    0.20, 0.45, 0.60, 0.35, -0.48, -0.58, -0.52, -0.45, -0.50, -0.55,
    -0.50, -0.48, -0.52, -0.40, -0.45, -0.55, -0.55, -0.60, -0.50, -0.55,
    -0.52, -0.62, -0.55, -0.50, -0.58, -0.60, -0.55, -0.62, -0.52, -0.58,
    -0.60, -0.55, -0.75, -0.58, -0.52, -0.55, -0.62, -0.50, -0.60, -0.45,
    -0.72, -0.82, -0.62, -0.66, -0.65, -0.72, -0.68, -0.64, -0.70, -0.74,
    -0.68, -0.72, -0.68, -0.75, -0.70, -0.70, -0.72, -0.71, -0.74, -0.70,
    -0.73, -0.78, -0.72, -0.76, -0.80, -0.75, -0.79, -0.82, -0.77, -0.80,
    -0.83, -0.79, -0.82, -0.85, -0.81, -0.84, -0.87, -0.83, -0.86, -0.89,
    -0.85, -0.88, -0.91, -0.87, -0.90, -0.92, -0.89, -0.92, -0.95, -0.91,
    -0.94, -0.96, -0.93, -0.95, -0.97, -0.95, -0.98, -0.99, -0.97, -1.00,
    -1.00,
]

# tick labels
x_ticks_sfc = [0, 1000, 2000, 3000, 4000, 5000]
x_ticks_cfc = [0, 200, 400, 600, 800, 1000]
y_ticks = [-1.0, -0.5, 0.0, 0.5, 1.0]
y_ticktext = ['\u22121.0', '\u22120.5', '0.0', '0.5', '1.0']


def px_x(px):
    return px / W


def px_y(px):
    return 1 - px / H


def axis_style(**kw):
    """Frame-style axis like the matplotlib classic look (inside ticks on all sides)."""
    base = dict(
        showline=True, linecolor='black', linewidth=3, mirror='ticks',
        ticks='inside', ticklen=13, tickwidth=2.5, tickcolor='black',
        showgrid=False, zeroline=False, ticklabelstandoff=6,
        tickfont=dict(family='DejaVu Sans', size=32, color='black'),
    )
    base.update(kw)
    return base


# panels: (x axis id, y axis id, time grid, series in plotting order)
panels = [
    ('x', 'y', t_sfc_fixed, [sfc_fix_blue1, sfc_fix_green1, sfc_fix_red1, sfc_fix_cyan,
                             sfc_fix_magenta, sfc_fix_yellow, sfc_fix_black, sfc_fix_blue2,
                             sfc_fix_green2, sfc_fix_red2]),
    ('x2', 'y2', t_cfc, [cfc_fix_blue1, cfc_fix_green1, cfc_fix_red1, cfc_fix_cyan,
                         cfc_fix_magenta, cfc_fix_yellow, cfc_fix_black, cfc_fix_blue2,
                         cfc_fix_green2, cfc_fix_red2]),
    ('x3', 'y3', t_sfc_mod, [sfc_mod_blue_up, sfc_mod_green_up, sfc_mod_red_up, sfc_mod_cyan,
                             sfc_mod_magenta, sfc_mod_yellow, sfc_mod_black, sfc_mod_blue_low,
                             sfc_mod_green_mid, sfc_mod_red_low]),
    ('x4', 'y4', t_cfc, [cfc_mod_blue1, cfc_mod_green1, cfc_mod_red1, cfc_mod_cyan,
                         cfc_mod_magenta, cfc_mod_yellow, cfc_mod_black, cfc_mod_blue2,
                         cfc_mod_green2, cfc_mod_red2]),
]

fig = go.Figure()

for xa, ya, t, series in panels:
    for color, values in zip(COLORS, series):
        fig.add_trace(go.Scatter(
            x=t, y=values, xaxis=xa, yaxis=ya,
            mode='lines', line=dict(color=color, width=3, shape='spline', smoothing=1.0),
            showlegend=False, hoverinfo='skip',
        ))

# plot areas in page pixels
left_dom = [px_x(306), px_x(1670)]
right_dom = [px_x(1829), px_x(3193)]
top_dom = [px_y(861), px_y(236)]
bottom_dom = [px_y(1620), px_y(996)]

fig.update_layout(
    width=W, height=H,
    margin=dict(l=0, r=0, t=0, b=0),
    paper_bgcolor='white', plot_bgcolor='white',
    font=dict(family='DejaVu Sans', color='black'),
    showlegend=False,
    xaxis=axis_style(domain=left_dom, anchor='y', range=[0, 5000],
                     tickvals=x_ticks_sfc, ticktext=[str(v) for v in x_ticks_sfc]),
    yaxis=axis_style(domain=top_dom, anchor='x', range=[-1, 1],
                     tickvals=y_ticks, ticktext=y_ticktext),
    xaxis2=axis_style(domain=right_dom, anchor='y2', range=[0, 1000],
                      tickvals=x_ticks_cfc, ticktext=[str(v) for v in x_ticks_cfc]),
    yaxis2=axis_style(domain=top_dom, anchor='x2', range=[-1, 1],
                      tickvals=y_ticks, ticktext=y_ticktext),
    xaxis3=axis_style(domain=left_dom, anchor='y3', range=[0, 5000],
                      tickvals=x_ticks_sfc, ticktext=[str(v) for v in x_ticks_sfc]),
    yaxis3=axis_style(domain=bottom_dom, anchor='x3', range=[-1, 1],
                      tickvals=y_ticks, ticktext=y_ticktext),
    xaxis4=axis_style(domain=right_dom, anchor='y4', range=[0, 1000],
                      tickvals=x_ticks_cfc, ticktext=[str(v) for v in x_ticks_cfc]),
    yaxis4=axis_style(domain=bottom_dom, anchor='x4', range=[-1, 1],
                      tickvals=y_ticks, ticktext=y_ticktext),
)

# text: (text, x px, y px, size, family, angle, colour, italic)
texts = [
    ('CIM-SFC', 987, 120, 72, 'Liberation Sans', 0, 'black', False),
    ('CIM-CFC', 2505, 120, 72, 'Liberation Sans', 0, 'black', False),
    ('Fixed Parameters', 65, 548, 70, 'Liberation Sans', -90, 'black', False),
    ('Modulated Parameters', 65, 1301, 70, 'Liberation Sans', -90, 'black', False),
    # y labels: "x_i  variables 10/100 shown", the x_i drawn as two small pieces
    ('variables 10/100 shown', 171, 514, 53, 'DejaVu Sans', -90, 'black', False),
    ('x', 174, 886, 48, 'DejaVu Serif', -90, '#555555', True),
    ('i', 191, 866, 28, 'DejaVu Serif', -90, '#555555', True),
    ('variables 10/100 shown', 171, 1271, 53, 'DejaVu Sans', -90, 'black', False),
    ('x', 174, 1642, 48, 'DejaVu Serif', -90, '#555555', True),
    ('i', 191, 1622, 28, 'DejaVu Serif', -90, '#555555', True),
    ('T (time steps)', 988, 931, 30, 'DejaVu Sans', 0, 'black', False),
    ('T (time steps)', 981, 1710, 46, 'DejaVu Sans', 0, 'black', False),
    ('T (time steps)', 2506, 1704, 46, 'DejaVu Sans', 0, 'black', False),
]
for txt, x, y, size, family, angle, color, italic in texts:
    fig.add_annotation(
        text=txt, x=px_x(x), y=px_y(y), xref='paper', yref='paper',
        xanchor='center', yanchor='middle', showarrow=False, textangle=angle,
        font=dict(family=family, size=size, color=color,
                  style='italic' if italic else 'normal'),
    )

# small stray mark next to the upper y label
fig.add_shape(type='rect', xref='paper', yref='paper',
              x0=px_x(237), x1=px_x(245), y0=px_y(792), y1=px_y(787),
              fillcolor='#222222', line=dict(width=0))

# the page body keeps no default margin, so figure pixels are page pixels
fig.write_html('out.html',
               config={'displayModeBar': False},
               post_script="document.body.style.margin='0px';"
                           "document.body.style.overflow='hidden';")
